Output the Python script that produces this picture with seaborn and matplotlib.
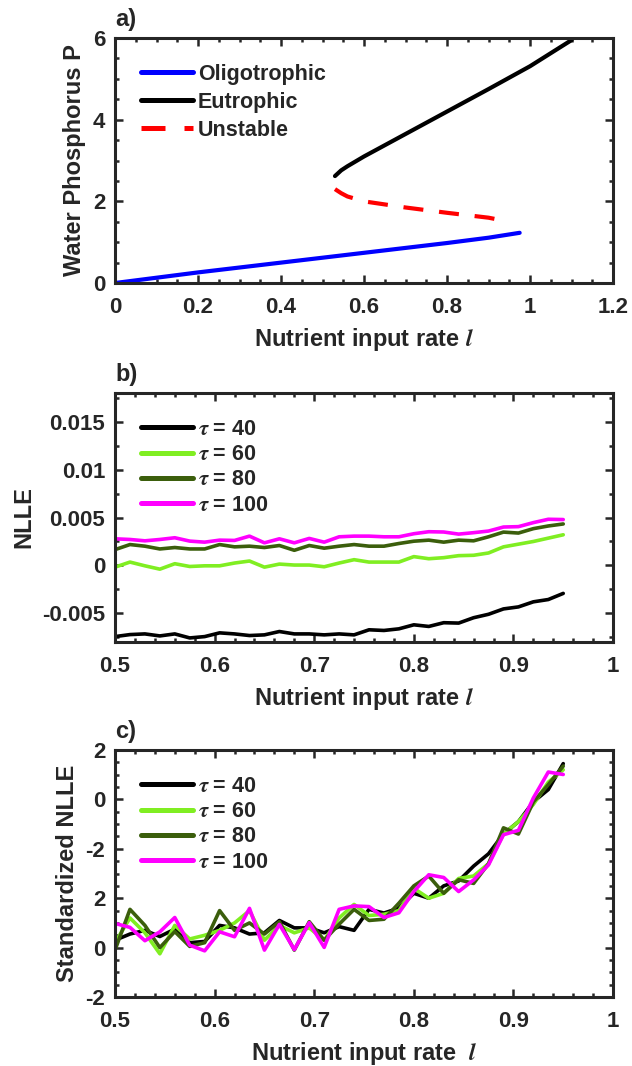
import numpy as np
import pandas as pd
import matplotlib
matplotlib.use('Agg')
import matplotlib.pyplot as plt
from matplotlib.ticker import MultipleLocator
import seaborn as sns

# ---- panel a: equilibrium branches ----
oligo_l = [0, 0.1, 0.2, 0.3, 0.4, 0.5, 0.6, 0.7, 0.8, 0.9, 0.975]
oligo_p = [0, 0.13, 0.26, 0.38, 0.5, 0.62, 0.74, 0.86, 0.98, 1.11, 1.23]
eutro_l = [0.53, 0.545, 0.56, 0.6, 0.7, 0.8, 0.9, 1.0, 1.1]
eutro_p = [2.62, 2.76, 2.86, 3.1, 3.65, 4.2, 4.75, 5.31, 5.95]
unst_l = [0.53, 0.545, 0.56, 0.6, 0.7, 0.8, 0.9, 0.93]
unst_p = [2.3, 2.2, 2.12, 2.0, 1.85, 1.72, 1.6, 1.54]

# ---- panels b, c: NLLE vs nutrient input ----
rate = np.linspace(0.5, 0.95, 31)
taus = [40, 60, 80, 100]
colors = ['#000000', '#80EE22', '#3B5E0C', '#FF00FF']

nlle = {
    40: [-0.00743, -0.00722, -0.00715, -0.00736, -0.00715, -0.00757, -0.00743, -0.00704,
         -0.00715, -0.00732, -0.00725, -0.0069, -0.00715, -0.00715, -0.00725, -0.00715,
         -0.00725, -0.00672, -0.00679, -0.00662, -0.0062, -0.00637, -0.00598, -0.00602,
         -0.00546, -0.0051, -0.00454, -0.00433, -0.0038, -0.00356, -0.00292],
    60: [-0.00018, 0.00035, -0.00004, -0.00039, 0.00018, -0.00011, -0.00004, -0.00004,
         0.00025, 0.00046, -0.00018, 0.00014, 0.00004, 0.00004, -0.00014, 0.00025,
         0.0006, 0.00035, 0.00035, 0.00035, 0.00092, 0.0007, 0.00081, 0.00102,
         0.00106, 0.0013, 0.00194, 0.00222, 0.0025, 0.00285, 0.0032],
    80: [0.00165, 0.00218, 0.00201, 0.00172, 0.00187, 0.00172, 0.00172, 0.00218,
         0.00194, 0.00201, 0.00187, 0.00208, 0.00158, 0.00208, 0.0018, 0.00201,
         0.00218, 0.00201, 0.00201, 0.00229, 0.00253, 0.00264, 0.00243, 0.00264,
         0.00257, 0.00299, 0.00348, 0.00338, 0.00384, 0.00412, 0.00433],
    100: [0.00278, 0.00271, 0.00257, 0.00271, 0.00289, 0.00254, 0.00243, 0.00264,
          0.00261, 0.00306, 0.00236, 0.00278, 0.00236, 0.00282, 0.00243, 0.00299,
          0.00306, 0.00306, 0.00299, 0.00299, 0.00331, 0.00352, 0.00349, 0.00327,
          0.00342, 0.00359, 0.00401, 0.00405, 0.00447, 0.00482, 0.00479],
}

# standardized values, on the drawn (relabelled) axis scale
std_nlle = {
    40: [0.3, 0.55, 0.7, 0.45, 0.75, 0.2, 0.25, 0.9, 0.8, 0.55, 0.6, 1.1, 0.8, 0.8, 0.6, 0.85,
         0.7, 1.55, 1.4, 1.6, 2.2, 2.0, 2.5, 2.7, 3.3, 3.8, 4.6, 5.1, 5.9, 6.4, 7.45],
    60: [0.2, 1.2, 0.6, -0.25, 0.9, 0.35, 0.5, 0.7, 1.0, 1.5, 0.3, 0.9, 0.6, 0.8, 0.3, 1.2,
         1.75, 1.3, 1.35, 1.5, 2.4, 2.0, 2.2, 2.8, 2.9, 3.4, 4.6, 5.1, 5.8, 6.7, 7.2],
    80: [-0.1, 1.55, 0.9, 0.0, 0.65, 0.05, 0.2, 1.5, 0.7, 1.0, 0.55, 1.05, -0.1, 1.05, 0.3, 0.95,
         1.55, 1.1, 1.15, 1.8, 2.5, 2.9, 2.2, 2.75, 2.6, 3.4, 4.85, 4.6, 5.9, 6.6, 7.35],
    100: [0.98, 0.82, 0.28, 0.64, 1.22, 0.1, -0.13, 0.64, 0.44, 1.59, -0.1, 0.94, -0.08, 1.01,
          0.01, 1.55, 1.69, 1.66, 1.22, 1.41, 2.27, 2.95, 2.84, 2.27, 2.74, 3.35, 4.57, 4.75,
          6.06, 7.11, 7.01],
}
std_ticks = [-2, 0, 2, 4, 6, 8]
std_ticklabels = ['-2', '0', '2', '-2', '0', '2']

sns.set_theme(style='ticks')
plt.rcParams['font.family'] = ['Liberation Sans', 'DejaVu Sans']
plt.rcParams['font.weight'] = 'bold'
plt.rcParams['axes.labelweight'] = 'bold'
plt.rcParams['mathtext.fontset'] = 'stix'
plt.rcParams['axes.edgecolor'] = '#262626'
plt.rcParams['xtick.color'] = '#262626'
plt.rcParams['ytick.color'] = '#262626'
plt.rcParams['text.color'] = '#262626'
plt.rcParams['axes.labelcolor'] = '#262626'

TICK_FS = 16
LABEL_FS = 17
LEG_FS = 15.5
LW = 2.6

fig = plt.figure(figsize=(6.32, 10.66), dpi=100)
ax_a = fig.add_axes([0.182, 0.7345, 0.788, 0.2298])
ax_b = fig.add_axes([0.182, 0.3977, 0.788, 0.2336])
ax_c = fig.add_axes([0.182, 0.0647, 0.788, 0.2317])


def style_axis(ax, letter, xlabel, ylabel, spacing):
    for sp in ax.spines.values():
        sp.set_visible(True)
        sp.set_linewidth(2.2)
    ax.tick_params(which='both', direction='in', top=True, right=True,
                   labelsize=TICK_FS, width=1.8, pad=7)
    ax.tick_params(axis='x', which='major', pad=10)
    ax.tick_params(which='major', length=6)
    ax.tick_params(which='minor', length=3)
    for t in ax.get_xticklabels() + ax.get_yticklabels():
        t.set_fontweight('bold')
    ax.set_xlabel(xlabel, fontsize=LABEL_FS, fontweight='bold', labelpad=6)
    ax.set_ylabel(ylabel, fontsize=LABEL_FS, fontweight='bold', labelpad=5)
    ax.text(0.0, 1.03, letter, transform=ax.transAxes, ha='left', va='bottom',
            fontsize=LABEL_FS, fontweight='bold')
    leg = ax.legend(loc='upper left', frameon=False, handlelength=2.4,
                    handletextpad=0.25, labelspacing=spacing, borderaxespad=0.8,
                    prop={'weight': 'bold', 'size': LEG_FS})
    for line in leg.get_lines():
        line.set_linewidth(3.6)


# panel a
sns.lineplot(x=oligo_l, y=oligo_p, ax=ax_a, color='#0000FF', lw=LW + 0.4, label='Oligotrophic')
sns.lineplot(x=eutro_l, y=eutro_p, ax=ax_a, color='#000000', lw=LW + 0.4, label='Eutrophic')
sns.lineplot(x=unst_l, y=unst_p, ax=ax_a, color='#FF0000', lw=LW + 0.4, label='Unstable',
             linestyle=(0, (4.8, 3.8)))
ax_a.set_xlim(0, 1.2)
ax_a.set_ylim(0, 6)
ax_a.set_xticks(np.arange(0, 1.21, 0.2))
ax_a.set_xticklabels(['0', '0.2', '0.4', '0.6', '0.8', '1', '1.2'])
ax_a.set_yticks([0, 2, 4, 6])
ax_a.xaxis.set_minor_locator(MultipleLocator(0.05))
ax_a.yaxis.set_minor_locator(MultipleLocator(0.5))
style_axis(ax_a, 'a)', 'Nutrient input rate $l$', 'Water Phosphorus P', 0.32)

# panel b
for tau, col in zip(taus, colors):
    sns.lineplot(x=rate, y=nlle[tau], ax=ax_b, color=col, lw=LW, label=rf'$\tau$ = {tau}')
ax_b.set_xlim(0.5, 1.0)
ax_b.set_ylim(-0.008, 0.018)
ax_b.set_xticks([0.5, 0.6, 0.7, 0.8, 0.9, 1.0])
ax_b.set_xticklabels(['0.5', '0.6', '0.7', '0.8', '0.9', '1'])
ax_b.set_yticks([-0.005, 0, 0.005, 0.01, 0.015])
ax_b.set_yticklabels(['-0.005', '0', '0.005', '0.01', '0.015'])
ax_b.xaxis.set_minor_locator(MultipleLocator(0.02))
ax_b.yaxis.set_minor_locator(MultipleLocator(0.0025))
style_axis(ax_b, 'b)', 'Nutrient input rate $l$', 'NLLE', 0.2)

# panel c
for tau, col in zip(taus, colors):
    sns.lineplot(x=rate, y=std_nlle[tau], ax=ax_c, color=col, lw=LW, label=rf'$\tau$ = {tau}')
ax_c.set_xlim(0.5, 1.0)
ax_c.set_ylim(-2, 8)
ax_c.set_xticks([0.5, 0.6, 0.7, 0.8, 0.9, 1.0])
ax_c.set_xticklabels(['0.5', '0.6', '0.7', '0.8', '0.9', '1'])
ax_c.set_yticks(std_ticks)
ax_c.set_yticklabels(std_ticklabels)
ax_c.xaxis.set_minor_locator(MultipleLocator(0.02))
ax_c.yaxis.set_minor_locator(MultipleLocator(0.5))
style_axis(ax_c, 'c)', 'Nutrient input rate  $l$', 'Standardized NLLE', 0.2)

fig.savefig('out.png', dpi=100)
